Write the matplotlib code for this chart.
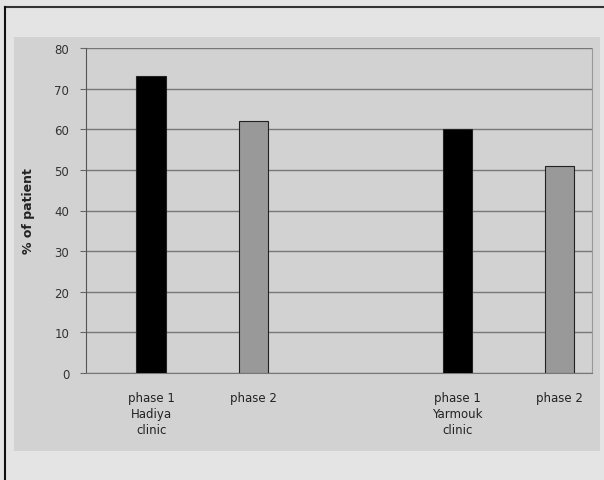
#!/usr/bin/env python3
from matplotlib import pyplot as plt
from matplotlib.patches import Rectangle
import numpy as np

labels = ['phase 1\nHadiya\nclinic', 'phase 2', '',
          'phase 1\nYarmouk\nclinic', 'phase 2']
values = [73, 62, None, 60, 51]
colors = ['black', '#999999', None, 'black', '#999999']
yticks = [0, 10, 20, 30, 40, 50, 60, 70, 80]


def main():
    fig = plt.figure(figsize=(6.04, 4.81), dpi=100)
    fig.patch.set_facecolor('#e4e4e4')

    # outer frame (top and left edges) and inner grey panel
    fig.add_artist(plt.Line2D([5/604, 1], [1 - 8/481] * 2, color='#333333',
                              lw=1.5, transform=fig.transFigure))
    fig.add_artist(plt.Line2D([5/604] * 2, [0, 1 - 8/481], color='#111111',
                              lw=1.5, transform=fig.transFigure))
    fig.add_artist(Rectangle((14/604, 1 - 452/481), (600 - 14)/604,
                             (452 - 38)/481, facecolor='#d2d2d2',
                             edgecolor='none', transform=fig.transFigure,
                             zorder=-1))

    ax = fig.add_axes([86/604, 1 - 374/481, (592 - 86)/604, (374 - 49)/481])
    ax.set_facecolor('#d2d2d2')

    x = np.arange(len(labels))
    for xi, v, c in zip(x, values, colors):
        if v is None:
            continue
        ax.bar(xi, v, width=0.29, color=c, edgecolor='#222222',
               linewidth=0.8, zorder=3)

    ax.set_ylim(0, 80)
    ax.set_xlim(-0.64, 4.32)
    ax.set_yticks(yticks)
    ax.set_yticklabels([str(t) for t in yticks], fontsize=8.5, color='#333333')
    ax.set_xticks(x)
    ax.set_xticklabels(labels, fontsize=8.5, color='#222222',
                       linespacing=1.3)
    ax.tick_params(axis='x', length=0, pad=13)
    ax.tick_params(axis='y', length=4, color='#666666', pad=8)

    ax.yaxis.grid(True, color='#777777', linewidth=1.0, zorder=0)
    ax.set_axisbelow(True)
    ax.spines['top'].set_visible(False)
    ax.spines['left'].set_color('#555555')
    ax.spines['right'].set_color('#999999')
    ax.spines['bottom'].set_color('#777777')

    ax.set_ylabel('% of patient', fontsize=9, fontweight='bold',
                  color='#222222', labelpad=14)

    plt.savefig('out.png', dpi=100, facecolor=fig.get_facecolor())


if __name__ == "__main__":
    main()
